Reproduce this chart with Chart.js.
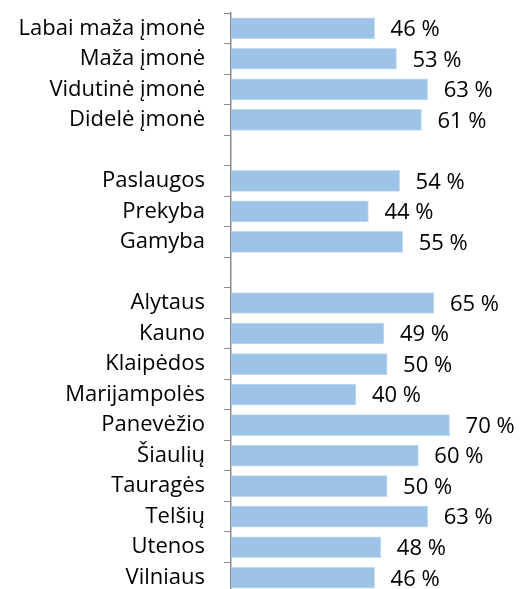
<!DOCTYPE html>
<html>
<head>
<meta charset="utf-8">
<script src="https://cdn.jsdelivr.net/npm/chart.js@4/dist/chart.umd.min.js"></script>
<style>
html,body{margin:0;padding:0;overflow:hidden;background:#fff;}
#wrap{position:relative;width:521px;height:595px;}
</style>
</head>
<body>
<div id="wrap"><canvas id="c" width="521" height="595"></canvas></div>
<script>
const categories = [
  "Labai maža įmonė","Maža įmonė","Vidutinė įmonė","Didelė įmonė","",
  "Paslaugos","Prekyba","Gamyba","",
  "Alytaus","Kauno","Klaipėdos","Marijampolės","Panevėžio","Šiaulių","Tauragės","Telšių","Utenos","Vilniaus"
];
const values = [46,53,63,61,null,54,44,55,null,65,49,50,40,70,60,50,63,48,46];
const FONT = "'Open Sans', sans-serif";

const valueLabels = {
  id: 'valueLabels',
  afterDatasetsDraw(chart) {
    const ctx = chart.ctx;
    const meta = chart.getDatasetMeta(0);
    ctx.save();
    ctx.font = "22px " + FONT;
    ctx.fillStyle = "#000";
    ctx.textAlign = "left";
    ctx.textBaseline = "middle";
    meta.data.forEach((bar, i) => {
      const v = values[i];
      if (v === null) return;
      ctx.fillText(v + " %", bar.x + 16, bar.y + 1.5);
    });
    ctx.restore();
  }
};

new Chart(document.getElementById('c'), {
  type: 'bar',
  data: {
    labels: categories,
    datasets: [{
      data: values,
      backgroundColor: '#9DC3E6',
      borderColor: '#C3DAF0',
      borderWidth: 1,
      barThickness: 21
    }]
  },
  options: {
    indexAxis: 'y',
    responsive: false,
    animation: false,
    layout: { padding: { top: 13, bottom: 2, left: 0, right: 9 } },
    plugins: { legend: { display: false }, tooltip: { enabled: false } },
    scales: {
      x: { display: false, min: 0, max: 90 },
      y: {
        afterFit(scale) { scale.width = 231; scale.paddingTop = 0; scale.paddingBottom = 0; },
        grid: { drawOnChartArea: false, drawTicks: true, tickLength: 7, color: '#8c8c8c', offset: true },
        border: { display: true, color: '#8c8c8c', width: 1.5 },
        ticks: { autoSkip: false, color: '#000', padding: 19, font: { family: FONT, size: 22 } }
      }
    }
  },
  plugins: [valueLabels]
});
</script>
</body>
</html>
